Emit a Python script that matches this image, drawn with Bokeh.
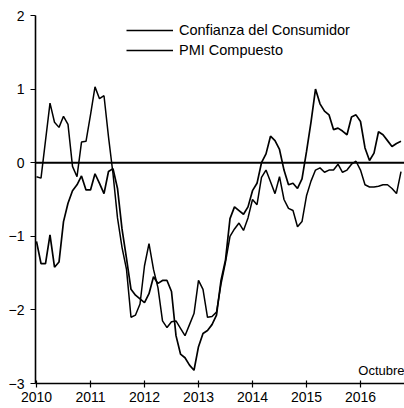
import pandas as pd
from bokeh.plotting import figure
from bokeh.models import Range1d, FixedTicker, Legend, LegendItem, Span, Label
from bokeh.embed import file_html
from bokeh.resources import INLINE

# Monthly observations, January 2010 - October 2016
months = pd.date_range("2010-01-01", "2016-10-01", freq="MS")
x_years = [d.year + (d.month - 1) / 12 for d in months]

confianza = [
    -1.07, -1.37, -1.37, -0.98, -1.42, -1.35, -0.80, -0.55, -0.38, -0.30, -0.18, -0.37,  # 2010
    -0.37, -0.15, -0.28, -0.42, -0.12, -0.08, -0.35, -0.90, -1.30, -1.72, -1.80, -1.85,  # 2011
    -1.90, -1.78, -1.55, -1.64, -1.60, -1.60, -1.75, -2.35, -2.60, -2.65, -2.75, -2.82,  # 2012
    -2.50, -2.32, -2.28, -2.20, -2.07, -1.60, -1.32, -0.76, -0.60, -0.65, -0.70, -0.60,  # 2013
    -0.38, -0.28, 0.00, 0.12, 0.36, 0.30, 0.18, -0.10, -0.30, -0.28, -0.35, -0.22,       # 2014
    0.15, 0.55, 1.00, 0.80, 0.70, 0.65, 0.45, 0.47, 0.43, 0.38, 0.62, 0.65,              # 2015
    0.56, 0.20, 0.03, 0.13, 0.42, 0.38, 0.30, 0.22, 0.26, 0.29,                          # 2016
]

pmi = [
    -0.19, -0.21, 0.30, 0.81, 0.55, 0.48, 0.63, 0.52, -0.05, -0.19, 0.28, 0.29,          # 2010
    0.65, 1.03, 0.87, 0.91, 0.35, -0.15, -0.75, -1.15, -1.45, -2.10, -2.07, -1.92,       # 2011
    -1.40, -1.10, -1.45, -1.70, -2.15, -2.24, -2.16, -2.15, -2.25, -2.35, -2.20, -2.05,  # 2012
    -1.60, -1.72, -2.10, -2.09, -2.03, -1.65, -1.35, -1.00, -0.90, -0.82, -0.92, -0.75,  # 2013
    -0.50, -0.57, -0.20, -0.10, -0.26, -0.42, -0.19, -0.50, -0.62, -0.65, -0.87, -0.80,  # 2014
    -0.45, -0.25, -0.10, -0.07, -0.13, -0.10, -0.10, -0.02, -0.13, -0.10, -0.02, 0.02,   # 2015
    -0.10, -0.30, -0.33, -0.33, -0.32, -0.30, -0.30, -0.35, -0.42, -0.12,                # 2016
]

year_ticks = [2010, 2011, 2012, 2013, 2014, 2015, 2016]
y_ticks = [-3, -2, -1, 0, 1, 2]
series_names = ["Confianza del Consumidor", "PMI Compuesto"]

FONT = "Liberation Sans"

p = figure(
    width=404, height=408,
    x_range=Range1d(2010 - 1 / 54, 2010 + 368 / 54),
    y_range=Range1d(-3, 2),
    output_backend="svg", toolbar_location=None,
    min_border_left=35, min_border_right=0, min_border_top=15, min_border_bottom=25,
)
p.outline_line_color = None
p.xgrid.visible = False
p.ygrid.visible = False
p.background_fill_color = "white"
p.border_fill_color = "white"

for ax in (p.xaxis[0], p.yaxis[0]):
    ax.axis_line_color = "black"
    ax.axis_line_width = 1.6
    ax.major_tick_line_color = "black"
    ax.major_tick_line_width = 1.2
    ax.minor_tick_line_color = None
    ax.major_label_text_font = FONT
    ax.major_label_text_font_size = "14px"
    ax.major_label_text_color = "black"

p.xaxis.ticker = FixedTicker(ticks=year_ticks)
p.xaxis.major_tick_in = 3
p.xaxis.major_tick_out = 4
p.xaxis.major_label_standoff = 4
p.yaxis.ticker = FixedTicker(ticks=y_ticks)
p.yaxis.major_tick_in = 0
p.yaxis.major_tick_out = 5
p.yaxis.major_label_standoff = 6

p.add_layout(Span(location=0, dimension="width", line_color="black", line_width=2))

r1 = p.line(x_years, confianza, line_color="black", line_width=1.7)
r2 = p.line(x_years, pmi, line_color="black", line_width=1.5)

legend = Legend(
    items=[LegendItem(label=series_names[0], renderers=[r1]),
           LegendItem(label=series_names[1], renderers=[r2])],
    location=(91, 325),
    background_fill_alpha=0, border_line_color=None,
    padding=0, margin=0, spacing=4,
    glyph_width=47, glyph_height=14, label_height=14, label_standoff=6,
    label_text_font=FONT, label_text_font_size="14.5px", label_text_color="black",
)
p.add_layout(legend)

p.add_layout(Label(x=2015.96, y=-2.83, text="Octubre", text_font=FONT,
                   text_font_size="13px", text_color="black",
                   text_baseline="alphabetic"))

open("out.html", "w").write(file_html(p, INLINE))
